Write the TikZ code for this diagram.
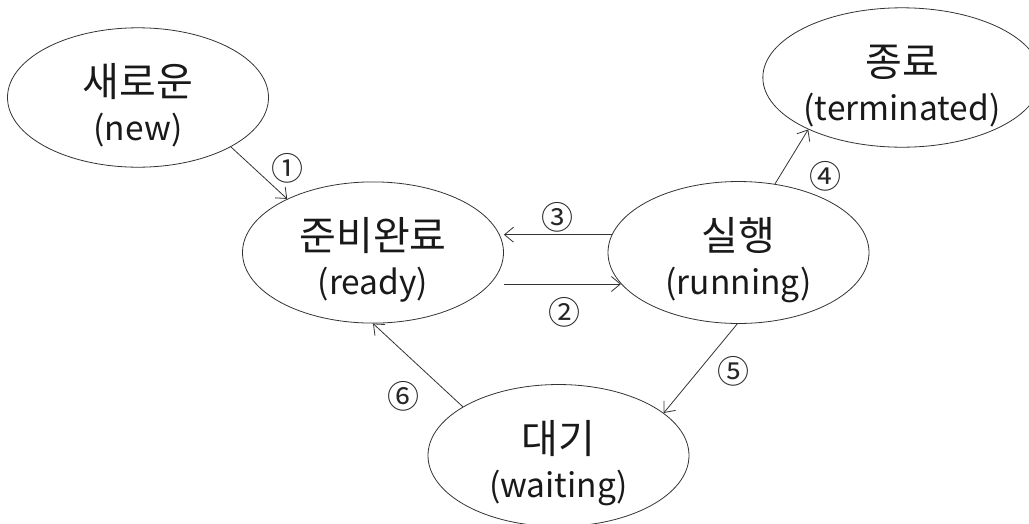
\documentclass[tikz,border=0pt]{standalone}
\usepackage{fontspec}
\setmainfont{Noto Sans CJK KR}
\usetikzlibrary{shapes.geometric,arrows.meta}
\newcommand\hg[1]{{\fontsize{40}{44}\selectfont #1}}
\begin{document}
\begin{tikzpicture}[x=1pt,y=-1pt,
  state/.style={draw=black!80, line width=0.8pt, ellipse, inner sep=0pt,
    minimum width=261pt, minimum height=137pt, align=center,
    font=\fontsize{33.5}{44}\selectfont, text=black!90},
  arr/.style={draw=black!80, line width=0.8pt, -{Straight Barb[length=9pt,width=15pt]}},
  num/.style={font=\fontsize{32}{32}\selectfont, text=black!85, inner sep=0pt}]
\useasboundingbox (0,0) rectangle (1029,523);
\node[state] (new) at (138,97.5) {\rule{0pt}{48pt}\hg{새로운}\\(new)};
\node[state] (ready) at (373,252.5) {\rule{0pt}{48pt}\hg{준비완료}\\(ready)};
\node[state] (running) at (738.5,252.5) {\rule{0pt}{48pt}\hg{실행}\\(running)};
\node[state, minimum width=253pt] (term) at (902,77.5) {\rule{0pt}{48pt}\hg{종료}\\(terminated)};
\node[state] (wait) at (558.5,455.5) {\rule{0pt}{48pt}\hg{대기}\\(waiting)};

\draw[arr] (new.-28) -- (ready.148);
\draw[arr] (running.172) -- (running.172 -| ready.east);
\draw[arr] (ready.east |- running.195) -- (running.195);
\draw[arr] (running.62) -- (term.209);
\draw[arr] (running.269) -- (wait.22);
\draw[arr] (wait.153) -- (ready.270);

\node[num] (n1) at (287,168) {①};
\node[num] (n2) at (564,312) {②};
\node[num] (n3) at (557,217) {③};
\node[num] (n4) at (825,176) {④};
\node[num] (n5) at (733,371) {⑤};
\node[num] (n6) at (403,396) {⑥};
\end{tikzpicture}
\end{document}
